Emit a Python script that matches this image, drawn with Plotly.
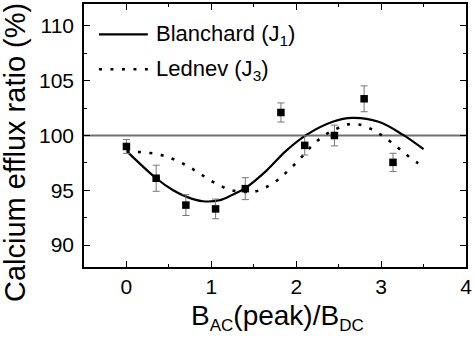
import plotly.graph_objects as go

# Measured data
x_meas = [0.0, 0.35, 0.70, 1.05, 1.40, 1.82, 2.10, 2.45, 2.80, 3.14]
y_meas = [99.0, 96.1, 93.65, 93.3, 95.15, 102.1, 99.1, 100.0, 103.35, 97.55]
err_meas = [0.63, 1.19, 0.95, 0.9, 1.0, 0.87, 0.88, 0.95, 1.18, 0.83]

# Blanchard (J1) model curve
x_blan = [0.0, 0.35, 0.55, 0.71, 0.90, 1.10, 1.25, 1.40, 1.65, 1.88, 2.13, 2.43, 2.66, 2.97, 3.25, 3.50]
y_blan = [98.6, 96.1, 95.0, 94.4, 94.0, 94.1, 94.6, 95.2, 96.8, 98.6, 100.1, 101.25, 101.6, 101.25, 100.1, 98.75]

# Lednev (J3) model curve
x_led = [0.0, 0.14, 0.28, 0.42, 0.55, 0.70, 0.83, 0.97, 1.11, 1.24, 1.38, 1.52, 1.65, 1.79,
         1.92, 2.06, 2.19, 2.33, 2.47, 2.60, 2.74, 2.88, 3.01, 3.15, 3.29, 3.43, 3.50]
y_led = [98.6, 98.5, 98.4, 98.2, 97.85, 97.3, 96.7, 96.0, 95.4, 95.0, 94.85, 94.9, 95.3, 96.0,
         96.9, 98.0, 99.1, 100.0, 100.6, 101.0, 101.0, 100.6, 100.0, 99.2, 98.3, 97.5, 97.2]

x_ticks = [0, 1, 2, 3, 4]
y_ticks = [90, 95, 100, 105, 110]
ref_level = 100

W, H = 474, 337
ML, MR, MT, MB = 84, 7, 2, 70
PW, PH = W - ML - MR, H - MT - MB
FONT = "Liberation Sans, Arial, sans-serif"


def px_x(p):
    return (p - ML) / PW


def px_y(p):
    return 1 - (p - MT) / PH


fig = go.Figure()
fig.add_trace(go.Scatter(x=x_blan, y=y_blan, mode="lines", line=dict(color="black", width=2.2, shape="spline"),
                         showlegend=False, hoverinfo="skip"))
fig.add_trace(go.Scatter(x=x_led, y=y_led, mode="lines",
                         line=dict(color="black", width=2.6, dash="3px,8.5px", shape="spline"),
                         showlegend=False, hoverinfo="skip"))
fig.add_trace(go.Scatter(x=x_meas, y=y_meas, mode="markers",
                         marker=dict(symbol="square", size=7.5, color="black"),
                         error_y=dict(type="data", array=err_meas, color="#777777", thickness=1, width=3.5),
                         showlegend=False))

# reference line at 100 %
fig.add_shape(type="line", xref="paper", yref="y", x0=0, x1=1, y0=ref_level, y1=ref_level,
              line=dict(color="#707070", width=1.8), layer="below")

# legend (manual)
fig.add_shape(type="line", xref="paper", yref="paper", x0=px_x(99), x1=px_x(148), y0=px_y(32.7), y1=px_y(32.7),
              line=dict(color="black", width=2.2))
fig.add_shape(type="line", xref="paper", yref="paper", x0=px_x(99), x1=px_x(148), y0=px_y(67.7), y1=px_y(67.7),
              line=dict(color="black", width=2.6, dash="3px,8.5px"))
fig.add_annotation(xref="paper", yref="paper", x=px_x(154), y=px_y(33), xanchor="left", yanchor="middle",
                   text="Blanchard (J<sub>1</sub>)", showarrow=False, font=dict(family=FONT, size=22, color="black"))
fig.add_annotation(xref="paper", yref="paper", x=px_x(154), y=px_y(68), xanchor="left", yanchor="middle",
                   text="Lednev (J<sub>3</sub>)", showarrow=False, font=dict(family=FONT, size=22, color="black"))

# axis titles
fig.add_annotation(xref="paper", yref="paper", x=px_x(15), y=px_y(152), xanchor="center", yanchor="middle",
                   text="Calcium efflux ratio (%)", textangle=-90, showarrow=False,
                   font=dict(family=FONT, size=29, color="black"))
fig.add_annotation(xref="paper", yref="paper", x=px_x(278), y=px_y(318), xanchor="center", yanchor="middle",
                   text='B<sub><span style="font-size:17px">AC</span></sub>(peak)/B<sub><span style="font-size:17px">DC</span></sub>',
                   showarrow=False,
                   font=dict(family=FONT, size=28, color="black"))

axis_common = dict(showline=True, linecolor="black", linewidth=1.5, mirror="allticks",
                   ticks="inside", ticklen=6, tickwidth=1.2, tickcolor="black",
                   showgrid=False, zeroline=False,
                   tickfont=dict(family=FONT, size=21, color="black"))

fig.update_xaxes(range=[-0.5, 4.0], tickvals=x_ticks, ticktext=[str(v) for v in x_ticks],
                 minor=dict(ticks="inside", ticklen=3, dtick=0.5, tick0=0, tickcolor="black", tickwidth=1),
                 ticklabelstandoff=0, **axis_common)
fig.update_yaxes(range=[88, 112], tickvals=y_ticks, ticktext=[str(v) for v in y_ticks],
                 minor=dict(ticks="inside", ticklen=3, dtick=2.5, tick0=0, tickcolor="black", tickwidth=1),
                 ticklabelstandoff=4, **axis_common)

fig.update_layout(width=W, height=H, margin=dict(l=ML, r=MR, t=MT, b=MB),
                  plot_bgcolor="white", paper_bgcolor="white", font=dict(family=FONT, color="black"))

fig.write_html("out.html")
